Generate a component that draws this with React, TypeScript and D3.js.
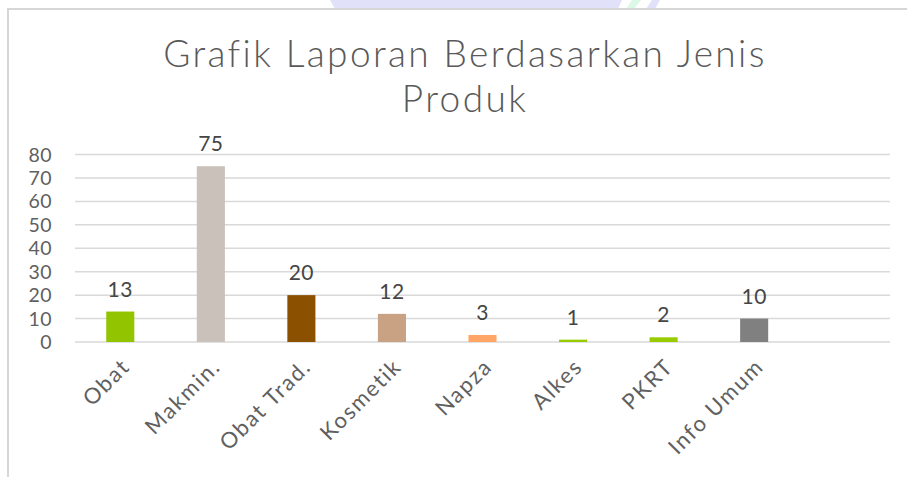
import { useEffect, useRef } from 'react'
import * as d3 from 'd3'

const categories = ['Obat', 'Makmin.', 'Obat Trad.', 'Kosmetik', 'Napza', 'Alkes', 'PKRT', 'Info Umum']
const values = [13, 75, 20, 12, 3, 1, 2, 10]
const barColors = ['#92c400', '#c9c1ba', '#8b5000', '#c8a283', '#ffa566', '#99cc00', '#99cc00', '#808080']
const yTicks = [0, 10, 20, 30, 40, 50, 60, 70, 80]
const titleLines = ['Grafik Laporan Berdasarkan Jenis', 'Produk']

const FONT = "'Century Gothic', Lato, sans-serif"

export default function App() {
  const ref = useRef<SVGSVGElement>(null)

  useEffect(() => {
    const width = 907,
      height = 477
    const margin = { top: 154.5, right: 17, bottom: 135, left: 75 }

    const svg = d3.select(ref.current)
    svg.selectAll('*').remove()
    svg.attr('width', width).attr('height', height)

    // faint watermark behind the chart frame
    svg.append('polygon').attr('points', '330,0 622,0 618,9 335,9').attr('fill', '#e1e1f9')
    svg.append('polygon').attr('points', '632,0 641,0 634,9 626,9').attr('fill', '#dcf8e6')
    svg.append('polygon').attr('points', '652,0 660,0 655,9 646,9').attr('fill', '#e1e1f9')

    // chart frame
    svg.append('rect').attr('x', 8).attr('y', 9).attr('width', 920).attr('height', 480)
      .attr('fill', '#ffffff').attr('stroke', '#d6d6d6').attr('stroke-width', 2)

    // extra empty slot after the last category
    const x = d3
      .scaleBand<string>()
      .domain([...categories, ' '])
      .range([margin.left, width - margin.right])
      .paddingInner(0.69)
      .paddingOuter(0.345)

    const y = d3.scaleLinear().domain([0, 80]).range([height - margin.bottom, margin.top])

    // title
    const title = svg
      .append('text')
      .attr('text-anchor', 'middle')
      .attr('fill', '#595959')
      .style('font-family', FONT)
      .style('font-size', '37px')
      .style('font-weight', 300)
      .style('letter-spacing', '2.4px')
    titleLines.forEach((t, i) => {
      title.append('tspan').attr('x', 465).attr('y', 67 + i * 45).text(t)
    })

    // gridlines
    svg
      .append('g')
      .selectAll('line')
      .data(yTicks)
      .enter()
      .append('line')
      .attr('x1', margin.left)
      .attr('x2', width - margin.right)
      .attr('y1', (d) => y(d))
      .attr('y2', (d) => y(d))
      .attr('stroke', '#d9d9d9')
      .attr('stroke-width', 1.5)

    // y tick labels
    svg
      .append('g')
      .selectAll('text')
      .data(yTicks)
      .enter()
      .append('text')
      .attr('x', 52)
      .attr('y', (d) => y(d))
      .attr('dy', '0.36em')
      .attr('text-anchor', 'end')
      .attr('fill', '#606060')
      .style('font-family', FONT)
      .style('font-size', '19.5px')
      .style('letter-spacing', '0.5px')
      .text((d) => d)

    // bars
    svg
      .append('g')
      .selectAll('rect')
      .data(values)
      .enter()
      .append('rect')
      .attr('x', (d, i) => x(categories[i])!)
      .attr('width', x.bandwidth())
      .attr('y', (d) => y(d))
      .attr('height', (d) => y(0) - y(d))
      .attr('fill', (d, i) => barColors[i])

    // data labels
    svg
      .append('g')
      .selectAll('text')
      .data(values)
      .enter()
      .append('text')
      .attr('x', (d, i) => x(categories[i])! + x.bandwidth() / 2)
      .attr('y', (d) => y(d) - 15)
      .attr('text-anchor', 'middle')
      .attr('fill', '#454545')
      .style('font-family', FONT)
      .style('font-size', '21px')
      .style('letter-spacing', '0.5px')
      .text((d) => d)

    // category labels, rotated
    svg
      .append('g')
      .selectAll('text')
      .data(categories)
      .enter()
      .append('text')
      .attr('transform', (d) => {
        const cx = x(d)! + x.bandwidth() / 2
        return 'translate(' + (cx + 11) + ',' + 368 + ') rotate(-45)'
      })
      .attr('text-anchor', 'end')
      .attr('fill', '#606060')
      .style('font-family', FONT)
      .style('font-size', '22px')
      .style('letter-spacing', '1.8px')
      .text((d) => d)
  }, [])

  return (
    <div style={{ position: 'absolute', left: 0, top: 0 }}>
      <svg ref={ref} style={{ display: 'block' }} />
    </div>
  )
}
